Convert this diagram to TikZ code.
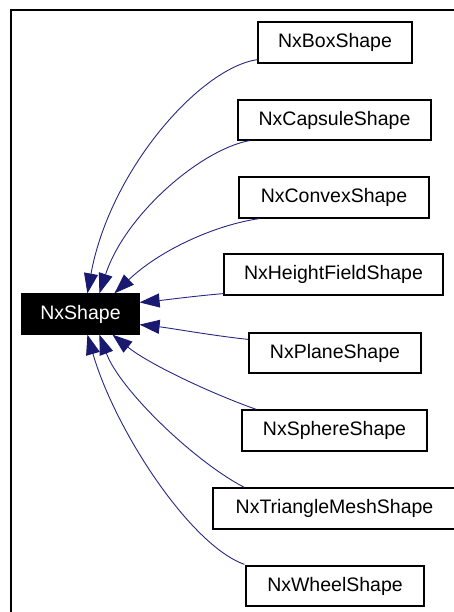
\documentclass[tikz,border=0pt]{standalone}
\usepackage{fontspec}
\setmainfont{Liberation Sans}
\usetikzlibrary{arrows.meta,calc}
\definecolor{edgeblue}{RGB}{25,25,112}
\definecolor{linkblue}{RGB}{40,40,130}
\begin{document}
\begin{tikzpicture}[x=1pt,y=-1pt,
  cls/.style={draw=black,line width=1.2pt,fill=white,inner sep=0pt,
    font=\fontsize{19.5}{23}\selectfont},
  base/.style={cls,fill=black,text=white},
  inh/.style={draw=linkblue,line width=0.9pt,
    -{Triangle[length=20pt,width=14pt,color=edgeblue,fill=edgeblue]}},
  frameline/.style={draw=black,line width=1.5pt}]
\useasboundingbox (0,0) rectangle (454,612);
\clip (0,0) rectangle (454,612);
\fill[white] (0,0) rectangle (454,612);
\coordinate (ftop) at (470,10);
\coordinate (fcorner) at (11,10);
\coordinate (fbot) at (11,630);
\draw[frameline] (ftop) -- (fcorner) -- (fbot);
% nodes
\node[base,minimum width=117pt,minimum height=40pt] (nx) at (80.5,314) {NxShape};
\node[cls,minimum width=154pt,minimum height=41pt] (box) at (335,42.5) {NxBoxShape};
\node[cls,minimum width=193pt,minimum height=40pt] (cap) at (334.5,120) {NxCapsuleShape};
\node[cls,minimum width=190pt,minimum height=41pt] (cvx) at (334,197.5) {NxConvexShape};
\node[cls,minimum width=219pt,minimum height=41pt] (hf) at (333.5,274.5) {NxHeightFieldShape};
\node[cls,minimum width=172pt,minimum height=40pt] (pl) at (335,353) {NxPlaneShape};
\node[cls,minimum width=185pt,minimum height=41pt] (sph) at (334.5,430.5) {NxSphereShape};
\node[cls,minimum width=243pt,minimum height=41pt] (tri) at (334.5,508.5) {NxTriangleMeshShape};
\node[cls,minimum width=178pt,minimum height=40pt] (wh) at (335,586) {NxWheelShape};
% edges
\draw[inh] ($(box.south west)+(0,-4)$) .. controls (200,68) and (110,170) .. ($(nx.north west)+(66,0)$);
\draw[inh] ($(cap.south west)+(12,0)$) .. controls (200,150) and (125,215) .. ($(nx.north west)+(78,0)$);
\draw[inh] ($(cvx.south west)+(21,0)$) .. controls (215,225) and (160,250) .. ($(nx.north west)+(93,0)$);
\draw[inh] ($(hf.south west)+(0,-2)$) .. controls (195,296) and (165,300) .. ($(nx.north east)+(0,9)$);
\draw[inh] ($(pl.north west)+(0,7)$) .. controls (215,336) and (170,328) .. ($(nx.south east)+(0,-10)$);
\draw[inh] ($(sph.north west)+(15,0)$) .. controls (215,395) and (150,365) .. ($(nx.south west)+(91,0)$);
\draw[inh] ($(tri.north west)+(32,0)$) .. controls (195,462) and (120,390) .. ($(nx.south west)+(78,0)$);
\draw[inh] ($(wh.north west)+(-1,-1)$) .. controls (190,545) and (115,430) .. ($(nx.south west)+(66,0)$);
\end{tikzpicture}
\end{document}
